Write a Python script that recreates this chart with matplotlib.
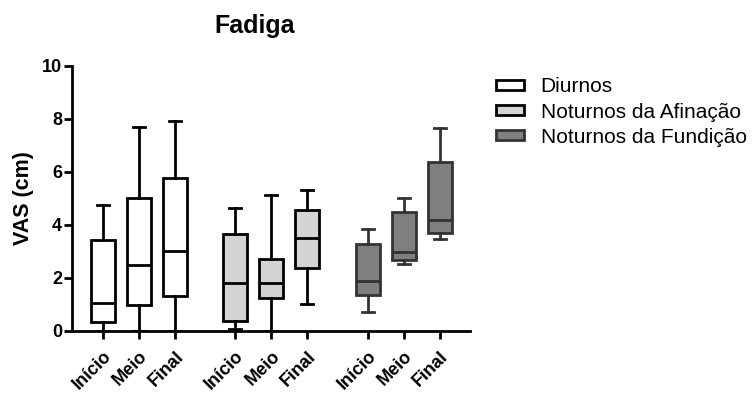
import matplotlib
matplotlib.use("Agg")
import matplotlib.pyplot as plt
from matplotlib.patches import Patch

plt.rcParams["font.family"] = ["Liberation Sans", "DejaVu Sans"]

# box stats: whislo, q1, median, q3, whishi
groups = ["Diurnos", "Noturnos da Afinação", "Noturnos da Fundição"]
phases = ["Início", "Meio", "Final"]
whislo = [[0.0, 0.0, 0.0], [0.09, 0.0, 1.02], [0.73, 2.52, 3.46]]
q1 = [[0.35, 0.98, 1.32], [0.38, 1.23, 2.37], [1.35, 2.68, 3.69]]
med = [[1.04, 2.49, 3.02], [1.82, 1.79, 3.50], [1.90, 2.99, 4.19]]
q3 = [[3.43, 5.00, 5.75], [3.65, 2.73, 4.57], [3.28, 4.50, 6.39]]
whishi = [[4.75, 7.68, 7.92], [4.65, 5.13, 5.32], [3.84, 5.00, 7.65]]

fills = ["white", "#d4d4d4", "#7f7f7f"]
edges = ["black", "black", "#333333"]
group_offsets = [0, 3.67, 7.35]

fig = plt.figure(figsize=(7.56, 3.94), dpi=100)
ax = fig.add_axes([0.0952, 0.16, 0.5265, 0.673])

tick_pos = []
tick_lab = []
for g in range(3):
    stats = []
    pos = []
    for p in range(3):
        stats.append(dict(whislo=whislo[g][p], q1=q1[g][p], med=med[g][p],
                          q3=q3[g][p], whishi=whishi[g][p], fliers=[]))
        pos.append(group_offsets[g] + p)
    ec = edges[g]
    ax.bxp(stats, positions=pos, widths=0.66, patch_artist=True,
           showfliers=False,
           boxprops=dict(facecolor=fills[g], edgecolor=ec, linewidth=2),
           medianprops=dict(color=ec, linewidth=2),
           whiskerprops=dict(color=ec, linewidth=2),
           capprops=dict(color=ec, linewidth=2),
           capwidths=0.33)
    tick_pos += pos
    tick_lab += phases

ax.set_xlim(-0.861, 10.19)
ax.set_ylim(0, 10)
ax.set_yticks([0, 2, 4, 6, 8, 10])
ax.set_xticks(tick_pos)
ax.set_xticklabels(tick_lab, rotation=45, ha="right", rotation_mode="anchor",
                   fontweight="bold", fontsize=13)
for lab in ax.get_yticklabels():
    lab.set_fontweight("bold")
    lab.set_fontsize(13)
ax.tick_params(width=2, length=6, direction="out")
ax.tick_params(axis="x", pad=6)
ax.tick_params(axis="y", pad=1)
for side in ["top", "right"]:
    ax.spines[side].set_visible(False)
for side in ["left", "bottom"]:
    ax.spines[side].set_linewidth(2)
ax.spines["bottom"].set_zorder(0)

ax.set_ylabel("VAS (cm)", fontweight="bold", fontsize=15.5, labelpad=6)
fig.text(255 / 756, 1 - 26 / 394, "Fadiga", fontweight="bold", fontsize=18,
         ha="center", va="center")

handles = [Patch(facecolor=fills[g], edgecolor=edges[g], linewidth=2)
           for g in range(3)]
fig.legend(handles, groups, loc="upper left", bbox_to_anchor=(0.645, 0.825),
           frameon=False, fontsize=15, handlelength=1.35, handleheight=0.38,
           labelspacing=0.3, handletextpad=0.8, borderaxespad=0)

fig.savefig("out.png", dpi=100)
